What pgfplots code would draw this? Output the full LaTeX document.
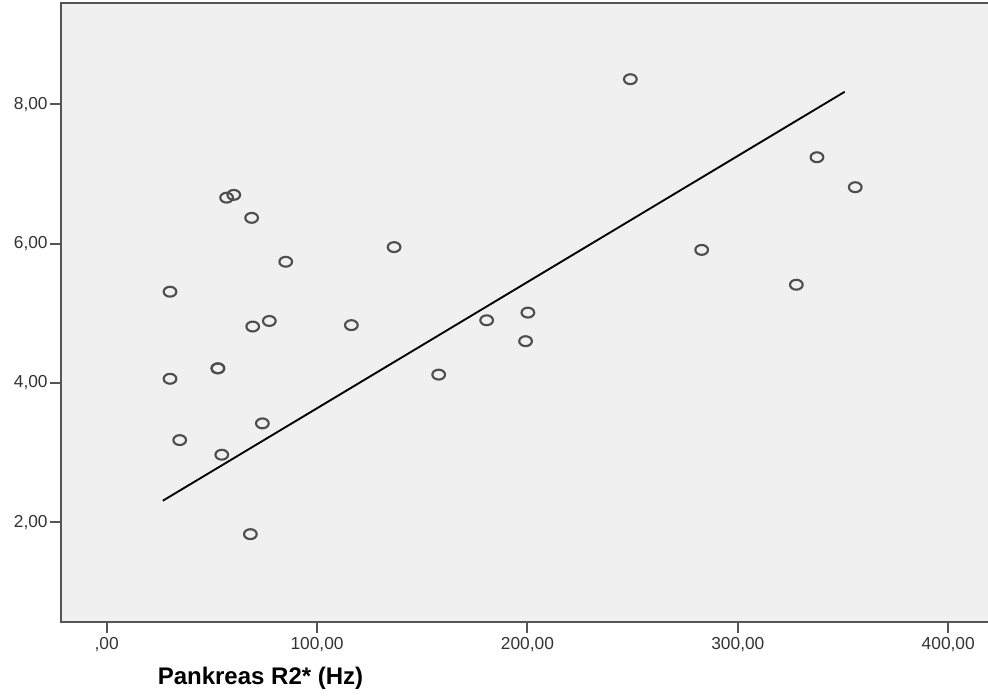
\documentclass[border=0pt]{standalone}
\usepackage{pgfplots}
\pgfplotsset{compat=1.18}
\usepackage{fontspec}
\setmainfont{Liberation Sans}
\definecolor{bg}{HTML}{F0F0F0}
\definecolor{spine}{HTML}{555555}
\definecolor{mk}{HTML}{4E4E4E}
\definecolor{tl}{HTML}{333333}
\begin{document}
\begin{tikzpicture}
\begin{axis}[
  at={(0pt,0pt)}, anchor=south west,
  scale only axis,
  width=698.25pt, height=464.25pt,
  xmin=-21.72, xmax=420.8,
  ymin=0.569, ymax=9.454,
  axis background/.style={fill=bg},
  axis line style={spine, line width=1.5pt},
  tick style={spine, line width=1.5pt},
  major tick length=8pt,
  tick align=outside,
  xtick pos=bottom, ytick pos=left,
  xtick={0,100,200,300,400},
  xticklabels={{,00},{100,00},{200,00},{300,00},{400,00}},
  ytick={2,4,6,8},
  yticklabels={{2,00},{4,00},{6,00},{8,00}},
  ticklabel style={font=\fontsize{13}{15}\selectfont, text=tl},
  yticklabel style={xshift=1.5pt},
  xlabel={Pankreas R2* (Hz)},
  xlabel style={at={(axis description cs:0.2143,-0.0905)}, anchor=center, font=\fontsize{18}{20}\selectfont\bfseries},
]
\addplot[only marks, mark=o, mark size=3.9pt, mark options={xscale=1.22, yscale=0.95, draw=mk, line width=1.6pt}] coordinates {
(30.1,5.31) (69.4,4.81) (77.3,4.89) (52.8,4.21) (52.9,4.21)
(30.1,4.06) (74.0,3.42) (34.7,3.18) (54.7,2.97) (68.3,1.83)
(136.6,5.95) (116.3,4.83) (180.6,4.90) (200.2,5.01) (199.1,4.60)
(157.8,4.12) (248.9,8.36) (337.6,7.24) (355.8,6.81) (282.8,5.91)
(327.8,5.41) (57.0,6.66) (60.4,6.70) (68.9,6.37) (85.1,5.74)
};
\addplot[black, line width=1.4pt] coordinates {(26.7,2.31) (350.8,8.18)};
\end{axis}
\pgfresetboundingbox
\path[use as bounding box] (-45.75pt,-55.5pt) rectangle (695.25pt,466.5pt);
\end{tikzpicture}
\end{document}
